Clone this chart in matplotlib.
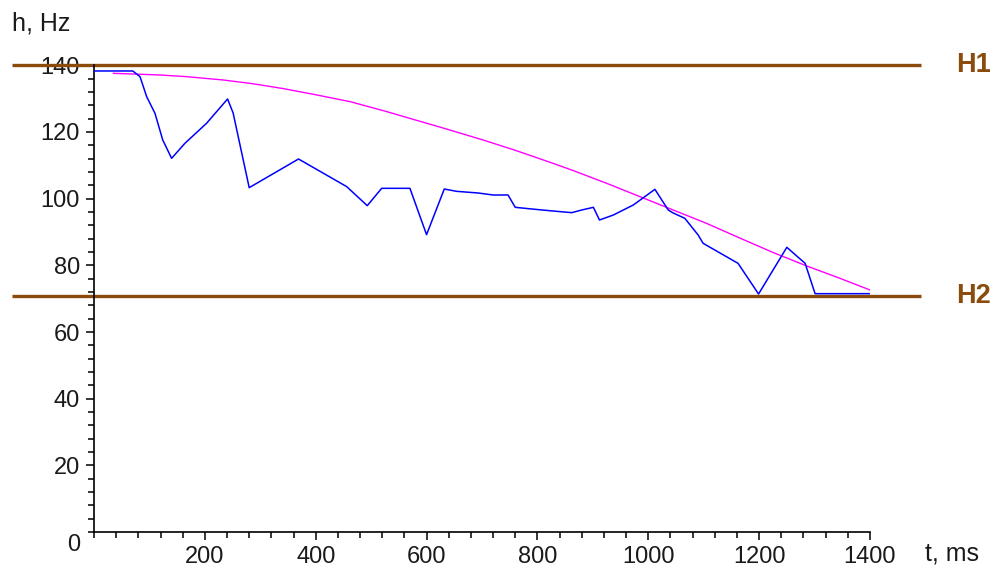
import matplotlib
matplotlib.use("Agg")
import matplotlib.pyplot as plt
from matplotlib.ticker import MultipleLocator

# measured pitch contour, h (Hz) vs t (ms)
t_meas = [0, 70, 83, 95, 110, 124, 140, 164, 203, 241, 251, 280, 369, 456,
          493, 519, 570, 600, 632, 654, 693, 720, 747, 760, 796, 828, 862,
          880, 901, 912, 937, 973, 1012, 1036, 1045, 1066, 1090, 1099, 1162,
          1199, 1250, 1283, 1301, 1399]
h_meas = [138.3, 138.3, 136.6, 130.6, 125.6, 117.6, 112.1, 116.6, 122.6,
          129.9, 125.7, 103.3, 111.9, 103.6, 97.9, 103.1, 103.1, 89.2, 102.9,
          102.2, 101.7, 101.1, 101.1, 97.4, 96.8, 96.3, 95.8, 96.6, 97.4,
          93.6, 95.1, 98.1, 102.8, 96.6, 95.7, 94.1, 89.1, 86.6, 80.6, 71.4,
          85.4, 80.6, 71.5, 71.5]

# smooth model contour
t_model = [35, 119, 167, 233, 281, 305, 342, 396, 462, 522, 582, 642, 702,
           762, 823, 865, 925, 985, 1045, 1105, 1165, 1226, 1286, 1346, 1400]
h_model = [137.6, 137.1, 136.6, 135.6, 134.6, 134.0, 133.0, 131.3, 129.1,
           126.4, 123.5, 120.6, 117.6, 114.4, 110.9, 108.4, 104.6, 100.6,
           96.6, 92.6, 88.2, 83.8, 79.8, 76.1, 72.6]

# register boundaries
H1 = 140.0
H2 = 70.7

BROWN = "#8a4b0c"
TEXT = "#1a1a1a"
plt.rcParams["font.family"] = ["Liberation Sans", "DejaVu Sans"]

fig = plt.figure(figsize=(9.98, 5.67), dpi=100)
ax = fig.add_axes([0.0942, 0.0617, 0.7775, 0.8231])

ax.plot([-148, 1492], [H1, H1], color=BROWN, lw=2.4, clip_on=False,
        solid_capstyle="butt", zorder=2)
ax.plot([-148, 1492], [H2, H2], color=BROWN, lw=2.4, clip_on=False,
        solid_capstyle="butt", zorder=2)
ax.plot(t_model, h_model, color="#ff00ff", lw=1.0, zorder=3)
ax.plot(t_meas, h_meas, color="#0000ff", lw=1.1, zorder=4)

ax.set_xlim(0, 1400)
ax.set_ylim(0, 140)

for side in ("top", "right"):
    ax.spines[side].set_visible(False)
for side in ("left", "bottom"):
    ax.spines[side].set_linewidth(1.2)
    ax.spines[side].set_color("black")

ax.set_xticks(range(200, 1401, 200))
ax.set_yticks(range(20, 141, 20))
ax.xaxis.set_minor_locator(MultipleLocator(40))
ax.yaxis.set_minor_locator(MultipleLocator(4))
ax.tick_params(which="major", length=6, width=1.1, labelsize=17,
               colors="black", labelcolor=TEXT)
ax.tick_params(which="minor", length=4, width=1.1)
ax.tick_params(axis="x", which="major", pad=4)
ax.tick_params(axis="y", which="major", pad=4)

# corner zero
ax.text(-0.018, -0.028, "0", transform=ax.transAxes, ha="right", va="center",
        fontsize=17, color=TEXT)

fig.text(12 / 998, 1 - 24 / 567, "h, Hz", ha="left", va="center",
         fontsize=18, color=TEXT)
fig.text(925 / 998, 1 - 553 / 567, "t, ms", ha="left", va="center",
         fontsize=18, color=TEXT)

for label, val in (("H1", H1), ("H2", H2)):
    ax.text(1555, val, label, ha="left", va="center", fontsize=19.5,
            fontweight="bold", color=BROWN, clip_on=False)

fig.savefig("out.png", dpi=100, facecolor="white")
